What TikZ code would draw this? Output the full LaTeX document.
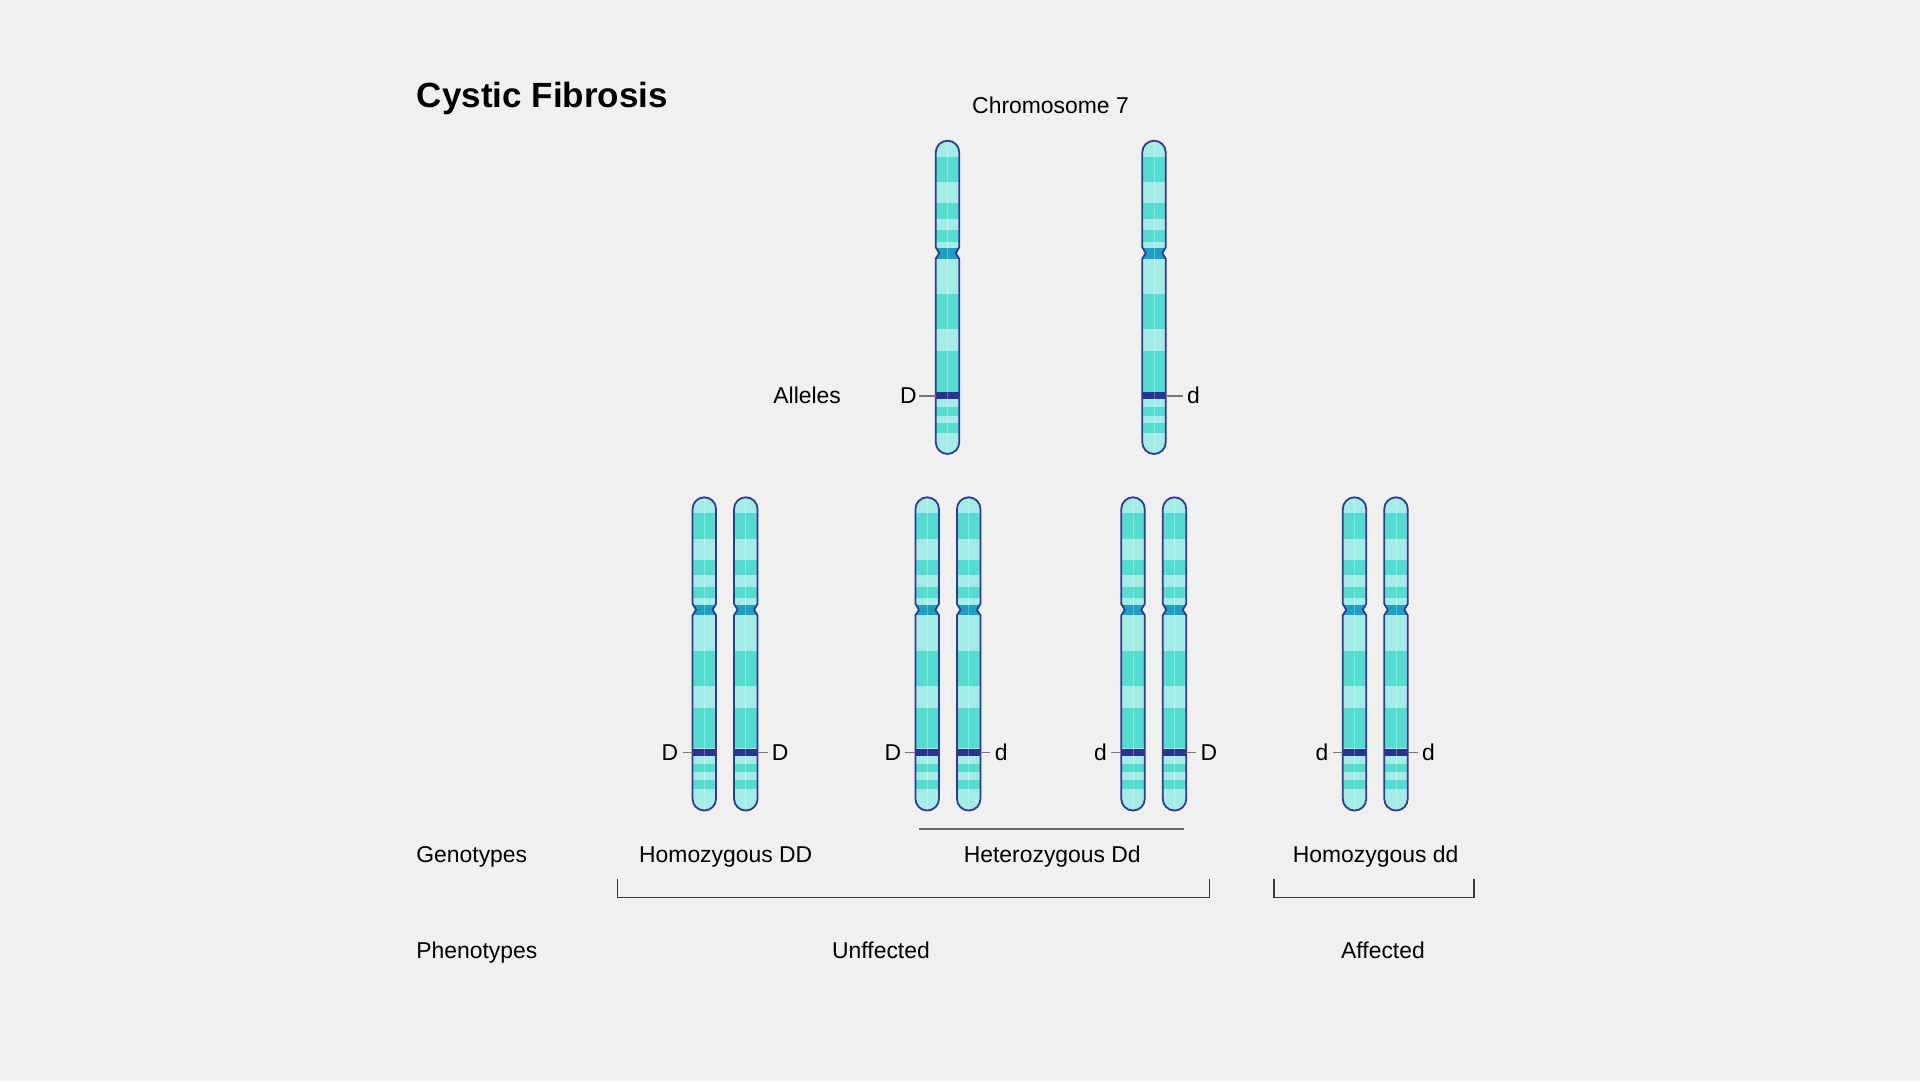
\documentclass[tikz,border=0pt]{standalone}
\usepackage{fontspec}
\setmainfont{Liberation Sans}
\definecolor{bgc}{HTML}{F0F0F0}
\definecolor{chlightc}{HTML}{A4EDE6}
\definecolor{chdarkc}{HTML}{55DCD0}
\definecolor{chcenc}{HTML}{1C9FC0}
\definecolor{chlinec}{HTML}{2E3A94}
\definecolor{chbandc}{HTML}{2B3390}
\definecolor{tickc}{HTML}{777777}
\definecolor{bracketc}{HTML}{3A3A3A}
\tikzset{
  chromshape/.style={insert path={(-11.75,106.5) -- (-11.75,11.75) arc[start angle=180,end angle=360,radius=11.75] -- (11.75,106.5) -- (8.25,112.5) -- (11.75,118) -- (11.75,301.5) arc[start angle=0,end angle=180,radius=11.75] -- (-11.75,118) -- (-8.25,112.5) -- cycle}},
  chrom/.pic={
    \fill[chlightc, chromshape];
    \begin{scope}
      \clip[chromshape];
      \foreach \a/\b in {16/41.7, 62.7/78, 89.3/101, 153.5/188.3, 210.3/251, 266.5/275, 282.7/292}
        \fill[chdarkc] (-13,\a) rectangle (13,\b);
      \fill[chcenc] (-13,107.5) rectangle (13,117.8);
      \fill[chbandc] (-13,251.3) rectangle (13,258.7);
      \draw[white, opacity=0.3, line width=0.4pt] (0,0) -- (0,313);
    \end{scope}
    \draw[chlinec, line width=0.9pt, line join=round, chromshape];
    \coordinate (-L) at (-11.75,255);
    \coordinate (-R) at (11.75,255);
  },
  lab/.style={font=\fontsize{11.45}{13}\selectfont, inner sep=0pt, text=black},
  alab/.style={font=\fontsize{11.45}{13}\selectfont, inner ysep=0pt, text=black},
  tickline/.style={draw=tickc, line width=0.8pt},
  bracketline/.style={draw=bracketc, line width=0.7pt},
}
\begin{document}
\begin{tikzpicture}[x=0.5pt, y=-0.5pt]
\useasboundingbox (0,0) rectangle (1920,1081);
\fill[bgc] (0,0) rectangle (1920,1081);

% title
\node[inner sep=0pt, anchor=base west, font=\fontsize{17.5}{20}\selectfont\bfseries] (title) at (416.5,107.7) {Cystic Fibrosis};
\node[lab, anchor=base] (chr7) at (1050.5,113) {Chromosome 7};
\node[lab, anchor=base west] (alleles) at (773,403.3) {Alleles};

% parent chromosomes
\pic (p1) at (947.5,140.7) {chrom};
\pic (p2) at (1154,140.7) {chrom};
\node[alab, inner xsep=1.2pt, anchor=east] (p1a) at ([xshift=-8.2pt]p1-L) {D};
\node[alab, inner xsep=2pt, anchor=west] (p2a) at ([xshift=8.5pt]p2-R) {d};
\draw[tickline] (p1-L) -- (p1a.east);
\draw[tickline] (p2-R) -- (p2a.west);

% offspring chromosomes
\pic (a1) at (704.3,497.3) {chrom};
\pic (a2) at (745.8,497.3) {chrom};
\pic (b1) at (927.2,497.3) {chrom};
\pic (b2) at (968.7,497.3) {chrom};
\pic (c1) at (1133,497.3) {chrom};
\pic (c2) at (1174.5,497.3) {chrom};
\pic (d1) at (1354.5,497.3) {chrom};
\pic (d2) at (1396,497.3) {chrom};

\node[alab, inner xsep=2pt, anchor=east] (a1a) at ([xshift=-5pt]a1-L) {D};
\node[alab, inner xsep=2pt, anchor=west] (a2a) at ([xshift=5pt]a2-R) {D};
\node[alab, inner xsep=2pt, anchor=east] (b1a) at ([xshift=-5pt]b1-L) {D};
\node[alab, inner xsep=2pt, anchor=west] (b2a) at ([xshift=5pt]b2-R) {d};
\node[alab, inner xsep=2pt, anchor=east] (c1a) at ([xshift=-5pt]c1-L) {d};
\node[alab, inner xsep=2pt, anchor=west] (c2a) at ([xshift=5pt]c2-R) {D};
\node[alab, inner xsep=2pt, anchor=east] (d1a) at ([xshift=-5pt]d1-L) {d};
\node[alab, inner xsep=2pt, anchor=west] (d2a) at ([xshift=5pt]d2-R) {d};
\foreach \n in {a1,b1,c1,d1} \draw[tickline] (\n-L) -- (\n a.east);
\foreach \n in {a2,b2,c2,d2} \draw[tickline] (\n-R) -- (\n a.west);

% genotypes
\node[lab, anchor=base west] (geno) at (416,862) {Genotypes};
\node[lab, anchor=base] (hdd) at (725.7,862) {Homozygous DD};
\node[lab, anchor=base] (hetd) at (1052.3,862) {Heterozygous Dd};
\node[lab, anchor=base] (hdl) at (1375.6,862) {Homozygous dd};
\coordinate (hetL) at (918.6,829);
\coordinate (hetR) at (1183.8,829);
\draw[draw=black!60, line width=0.7pt] (hetL) -- (hetR);

% brackets
\coordinate (u1) at (617.5,879);
\coordinate (u2) at (1209.5,879);
\coordinate (f1) at (1274,879);
\coordinate (f2) at (1474,879);
\draw[bracketline] (u1) -- ++(0,18.5) -| (u2);
\draw[bracketline] (f1) -- ++(0,18.5) -| (f2);

% phenotypes
\node[lab, anchor=base west] (pheno) at (416,958.3) {Phenotypes};
\node[lab, anchor=base] (unf) at (881,958.3) {Unffected};
\node[lab, anchor=base] (aff) at (1383,958.3) {Affected};
\end{tikzpicture}
\end{document}
